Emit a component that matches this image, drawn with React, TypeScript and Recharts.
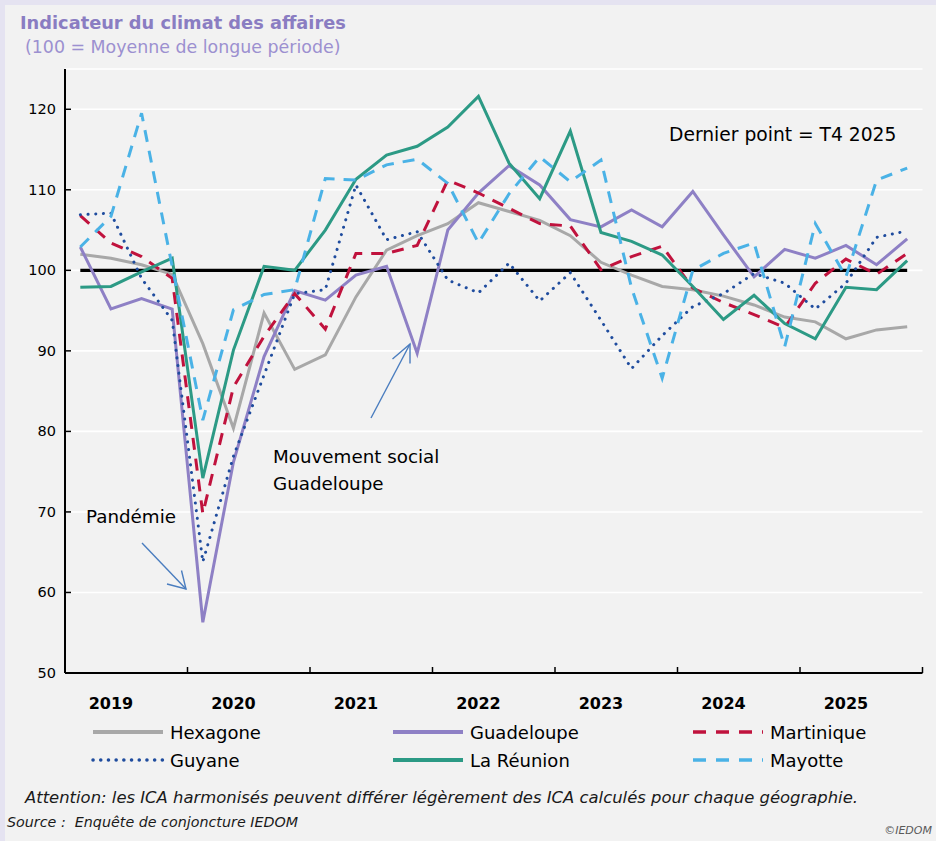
import React from "react";
import { LineChart, Line, XAxis, YAxis, CartesianGrid } from "recharts";

const FONT = "'DejaVu Sans', Verdana, sans-serif";

const ANNEES = ["2019", "2020", "2021", "2022", "2023", "2024", "2025"];

const TRIMESTRES = [
  "T1 2019", "T2 2019", "T3 2019", "T4 2019",
  "T1 2020", "T2 2020", "T3 2020", "T4 2020",
  "T1 2021", "T2 2021", "T3 2021", "T4 2021",
  "T1 2022", "T2 2022", "T3 2022", "T4 2022",
  "T1 2023", "T2 2023", "T3 2023", "T4 2023",
  "T1 2024", "T2 2024", "T3 2024", "T4 2024",
  "T1 2025", "T2 2025", "T3 2025", "T4 2025",
];

// valeurs (ICA, 100 = moyenne de longue période)
const HEXAGONE = [102.0, 101.5, 100.7, 99.5, 90.9, 80.4, 94.7, 87.7, 89.5, 96.7, 102.5, 104.3, 105.8, 108.4, 107.3, 106.2, 104.3, 101.0, 99.4, 98.0, 97.6, 96.8, 95.7, 94.2, 93.6, 91.5, 92.6, 93.0];
const GUADELOUPE = [102.9, 95.2, 96.5, 95.2, 56.3, 76.2, 89.3, 97.5, 96.3, 99.4, 100.5, 89.7, 105.0, 109.6, 113.0, 110.6, 106.3, 105.4, 107.5, 105.4, 109.8, 104.4, 99.2, 102.6, 101.5, 103.1, 100.7, 103.9];
const MARTINIQUE = [106.8, 103.4, 101.7, 99.0, 69.8, 85.5, 91.8, 97.1, 92.7, 102.1, 102.1, 103.1, 111.2, 109.6, 107.7, 105.8, 105.5, 100.1, 101.7, 103.0, 97.8, 96.0, 94.5, 92.9, 98.4, 101.4, 99.5, 102.1];
const GUYANE = [106.9, 107.1, 99.0, 93.8, 63.8, 76.9, 87.0, 97.1, 97.6, 110.6, 103.8, 104.8, 98.8, 97.2, 100.9, 96.2, 99.7, 93.8, 87.8, 91.9, 95.5, 97.1, 99.6, 98.4, 95.2, 98.4, 104.1, 104.9];
const LA_REUNION = [97.9, 98.0, 99.8, 101.5, 74.2, 90.1, 100.5, 100.0, 105.0, 111.3, 114.3, 115.4, 117.8, 121.6, 113.3, 108.9, 117.3, 104.7, 103.6, 101.9, 98.0, 93.9, 96.9, 93.4, 91.5, 97.9, 97.6, 101.2];
const MAYOTTE = [102.9, 106.7, 119.5, 100.5, 81.4, 95.1, 97.0, 97.6, 111.4, 111.2, 113.1, 113.8, 110.8, 103.4, 109.5, 114.1, 111.0, 113.7, 97.8, 86.6, 100.0, 102.1, 103.4, 90.5, 105.8, 99.2, 111.2, 112.7];
const MOYENNE = [100, 100, 100, 100, 100, 100, 100, 100, 100, 100, 100, 100, 100, 100, 100, 100, 100, 100, 100, 100, 100, 100, 100, 100, 100, 100, 100, 100];

const Y_TICKS = [50, 60, 70, 80, 90, 100, 110, 120];
// limites d'années (entiers) et position des étiquettes (T2 de chaque année)
const X_TICKS = [0, 1.5, 4, 5.5, 8, 9.5, 12, 13.5, 16, 17.5, 20, 21.5, 24, 25.5, 28];

const SERIES = [
  { key: "hexagone", name: "Hexagone", color: "#A8A8A8", dash: undefined as string | undefined, cap: "butt" },
  { key: "guadeloupe", name: "Guadeloupe", color: "#8E80C5", dash: undefined, cap: "butt" },
  { key: "martinique", name: "Martinique", color: "#C0123D", dash: "12 9", cap: "butt" },
  { key: "guyane", name: "Guyane", color: "#1F4C9E", dash: "0.1 7.6", cap: "round" },
  { key: "reunion", name: "La Réunion", color: "#2C9A85", dash: undefined, cap: "butt" },
  { key: "mayotte", name: "Mayotte", color: "#4AB2E6", dash: "12 9", cap: "butt" },
];

const data = TRIMESTRES.map((t, i) => ({
  x: i + 0.5,
  trimestre: t,
  hexagone: HEXAGONE[i],
  guadeloupe: GUADELOUPE[i],
  martinique: MARTINIQUE[i],
  guyane: GUYANE[i],
  reunion: LA_REUNION[i],
  mayotte: MAYOTTE[i],
  moyenne: MOYENNE[i],
}));

const YTick = (props: any) => {
  const { x, y, payload } = props;
  return (
    <g>
      <line x1={x} x2={x + 6} y1={y} y2={y} stroke="#000" strokeWidth={1.5} />
      <text x={x - 9} y={y} dy={5} textAnchor="end" fontSize={14.5} fill="#000" fontFamily={FONT}>
        {payload.value}
      </text>
    </g>
  );
};

const XTick = (props: any) => {
  const { x, y, payload } = props;
  const v = payload.value;
  if (Number.isInteger(v)) {
    return <line x1={x} x2={x} y1={y} y2={y - 6} stroke="#000" strokeWidth={1.5} />;
  }
  return (
    <text x={x} y={y + 36} textAnchor="middle" fontSize={16} fontWeight="bold" fill="#000" fontFamily={FONT}>
      {ANNEES[Math.floor(v / 4)]}
    </text>
  );
};

const LegendRow = ({ y, items }: { y: number; items: typeof SERIES }) => (
  <g>
    {items.map((s, i) => {
      const x0 = 93 + i * 300;
      return (
        <g key={s.key}>
          <line
            x1={x0}
            x2={x0 + 70}
            y1={y}
            y2={y}
            stroke={s.color}
            strokeWidth={s.dash ? 3.5 : 4}
            strokeDasharray={s.dash === "12 9" ? "13 10" : s.dash}
            strokeLinecap={s.cap as any}
          />
          <text x={x0 + 77} y={y + 7} fontSize={18} fill="#000" fontFamily={FONT}>
            {s.name}
          </text>
        </g>
      );
    })}
  </g>
);

export default function App() {
  return (
    <div style={{ position: "absolute", left: 0, top: 0, width: 936, height: 841, background: "#E5E3F1" }}>
      <div style={{ position: "absolute", left: 5, top: 5, width: 931, height: 836, background: "#F2F2F2" }} />
      <div style={{ position: "absolute", left: 0, top: 0 }}>
        <LineChart width={936} height={841} data={data} margin={{ top: 69, right: 13.5, left: 0, bottom: 128 }}>
          <CartesianGrid horizontal vertical={false} stroke="#FFFFFF" strokeWidth={1.6} />
          <XAxis
            dataKey="x"
            type="number"
            domain={[0, 28]}
            ticks={X_TICKS}
            interval={0}
            height={40}
            tickLine={false}
            tickSize={0}
            tickMargin={0}
            axisLine={{ stroke: "#000", strokeWidth: 2 }}
            tick={<XTick />}
          />
          <YAxis
            type="number"
            domain={[50, 125]}
            ticks={Y_TICKS}
            interval={0}
            width={65}
            tickLine={false}
            tickSize={0}
            tickMargin={0}
            axisLine={{ stroke: "#000", strokeWidth: 2 }}
            tick={<YTick />}
          />
          <Line dataKey="moyenne" stroke="#000" strokeWidth={3.2} dot={false} isAnimationActive={false} />
          {SERIES.map((s) => (
            <Line
              key={s.key}
              dataKey={s.key}
              name={s.name}
              type="linear"
              stroke={s.color}
              strokeWidth={3}
              strokeDasharray={s.dash}
              strokeLinecap={s.cap as any}
              dot={false}
              isAnimationActive={false}
            />
          ))}
        </LineChart>
      </div>
      <svg width={936} height={841} style={{ position: "absolute", left: 0, top: 0, pointerEvents: "none" }}>
        <text x={20} y={29} fontSize={17.8} fontWeight="bold" fill="#8A7DC2" fontFamily={FONT}>
          Indicateur du climat des affaires
        </text>
        <text x={25} y={53} fontSize={17.4} fill="#9C90D0" fontFamily={FONT}>
          (100 = Moyenne de longue période)
        </text>

        <text x={669} y={141} fontSize={18.7} fill="#000" fontFamily={FONT}>
          Dernier point = T4 2025
        </text>

        <text x={86} y={523} fontSize={18.3} fill="#000" fontFamily={FONT}>
          Pandémie
        </text>
        <g stroke="#4A7DBF" strokeWidth={1.4} fill="none">
          <line x1={142} y1={543} x2={186} y2={589} />
          <polyline points="167,584 186,589 181.5,570.5" />
        </g>

        <text x={273} y={463} fontSize={18.3} fill="#000" fontFamily={FONT}>
          Mouvement social
        </text>
        <text x={273} y={490} fontSize={18.3} fill="#000" fontFamily={FONT}>
          Guadeloupe
        </text>
        <g stroke="#4A7DBF" strokeWidth={1.4} fill="none">
          <line x1={371} y1={418} x2={410} y2={344} />
          <polyline points="392.5,359 410,344 410,363.5" />
        </g>

        <LegendRow y={732} items={SERIES.slice(0, 3)} />
        <LegendRow y={760} items={SERIES.slice(3, 6)} />

        <text x={25} y={803} fontSize={15.3} fontStyle="italic" fill="#1A1A1A" fontFamily={FONT} textLength={833} lengthAdjust="spacingAndGlyphs">
          Attention: les ICA harmonisés peuvent différer légèrement des ICA calculés pour chaque géographie.
        </text>
        <text x={7} y={827} fontSize={13.5} fontStyle="italic" fill="#1A1A1A" fontFamily={FONT} textLength={291} lengthAdjust="spacingAndGlyphs">
          {"Source :\u00A0 Enquête de conjoncture IEDOM"}
        </text>
        <text x={932} y={834} fontSize={11} fontStyle="italic" fill="#595959" fontFamily={FONT} textAnchor="end">
          ©IEDOM
        </text>
      </svg>
    </div>
  );
}
